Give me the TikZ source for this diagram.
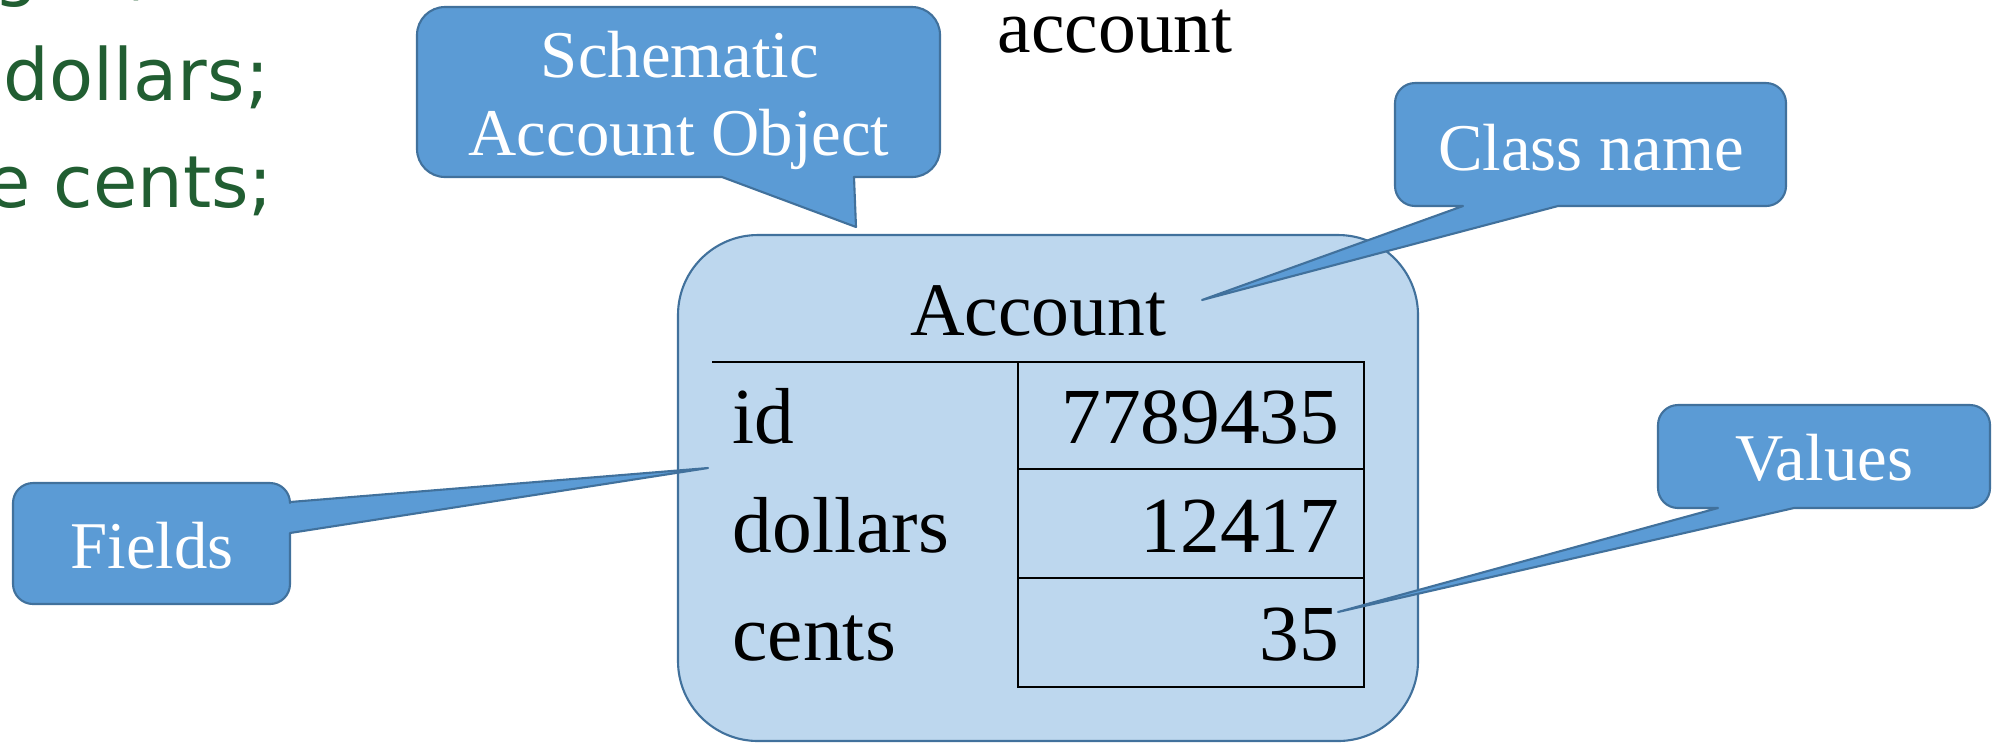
\documentclass[tikz,border=0pt]{standalone}
\usepackage{fontspec}
\setmainfont{Liberation Serif}
\newfontfamily\codefont{DejaVu Sans}
\definecolor{callfill}{HTML}{5B9BD5}
\definecolor{calledge}{HTML}{41719C}
\definecolor{objfill}{HTML}{BDD7EE}
\definecolor{codegreen}{HTML}{215E32}
\begin{document}
\begin{tikzpicture}[x=0.1mm,y=-0.1mm,
  callout/.style={fill=callfill,draw=calledge,line width=0.6pt,line join=round},
  calltext/.style={text=white,inner sep=0pt,font=\fontsize{19}{22}\selectfont},
  objbox/.style={fill=objfill,draw=calledge,line width=0.6pt,rounded corners=8mm,inner sep=0pt},
  objtext/.style={text=black,inner sep=0pt,font=\fontsize{21.5}{25}\selectfont},
  celltext/.style={text=black,inner sep=0pt,font=\fontsize{22.6}{26}\selectfont},
  tabline/.style={draw=black,line width=0.8pt},
  codetext/.style={text=codegreen,inner sep=0pt,font=\codefont\fontsize{20.5}{24}\selectfont}]
\useasboundingbox (0,0) rectangle (1998,743);
\clip (0,0) rectangle (1998,743);

% code text, cropped at the left edge
\node[codetext,anchor=base east] (code1) at (153,-8) {long id;};
\node[codetext,anchor=base east] (code2) at (270,100) {long dollars;};
\node[codetext,anchor=base east] (code3) at (274,207) {byte cents;};

% variable name
\node[objtext,anchor=base west] (var) at (997,52) {account};

% object box
\node[objbox,minimum width=74mm,minimum height=50.6mm] (obj) at (1048,488) {};
\node[objtext,anchor=base] (cls) at (1038,335) {Account};

% table
\coordinate (tl) at (712,362);
\coordinate (tm) at (1018,362);
\coordinate (tr) at (1364,362);
\coordinate (br) at (1364,687);
\coordinate (bm) at (1018,687);
\coordinate (r1l) at (1018,469);
\coordinate (r1r) at (1364,469);
\coordinate (r2l) at (1018,578);
\coordinate (r2r) at (1364,578);
\draw[tabline] (tl) -- (tr) -- (br) -- (bm) -- (tm);
\draw[tabline] (r1l) -- (r1r);
\draw[tabline] (r2l) -- (r2r);

\node[celltext,anchor=base west] (f1) at (732,443) {id};
\node[celltext,anchor=base west] (f2) at (732,552) {dollars};
\node[celltext,anchor=base west] (f3) at (732,660) {cents};
\node[celltext,anchor=base east] (v1) at (1340,443) {7789435};
\node[celltext,anchor=base east] (v2) at (1340,552) {12417};
\node[celltext,anchor=base east] (v3) at (1340,660) {35};

% pointer tips
\coordinate (tipS) at (856,227);
\coordinate (tipC) at (1202,300);
\coordinate (tipF) at (708,468);
\coordinate (tipV) at (1338,612);

% Schematic Account Object callout
\path[callout] (722,177) [rounded corners=2.8mm] -- (417,177) -- (417,7) -- (940,7) -- (940,177)
  [sharp corners] -- (854,177) -- (tipS) -- cycle;
\node[calltext,anchor=base] (schem1) at (680,77) {Schematic};
\node[calltext,anchor=base] (schem2) at (679,155) {Account Object};

% Class name callout
\path[callout] (1558,206) [rounded corners=2mm] -- (1786,206) -- (1786,83) -- (1395,83) -- (1395,206)
  [sharp corners] -- (1463,206) -- (tipC) -- cycle;
\node[calltext,anchor=base] (clsname) at (1591,170) {Class name};

% Fields callout
\path[callout] (290,533) [rounded corners=2mm] -- (290,604) -- (13,604) -- (13,483) -- (290,483)
  [sharp corners] -- (290,502) -- (tipF) -- cycle;
\node[calltext,anchor=base] (fields) at (152,568) {Fields};

% Values callout
\path[callout] (1794,508) [rounded corners=2mm] -- (1990,508) -- (1990,405) -- (1658,405) -- (1658,508)
  [sharp corners] -- (1718,508) -- (tipV) -- cycle;
\node[calltext,anchor=base] (values) at (1824,480) {Values};
\end{tikzpicture}
\end{document}
